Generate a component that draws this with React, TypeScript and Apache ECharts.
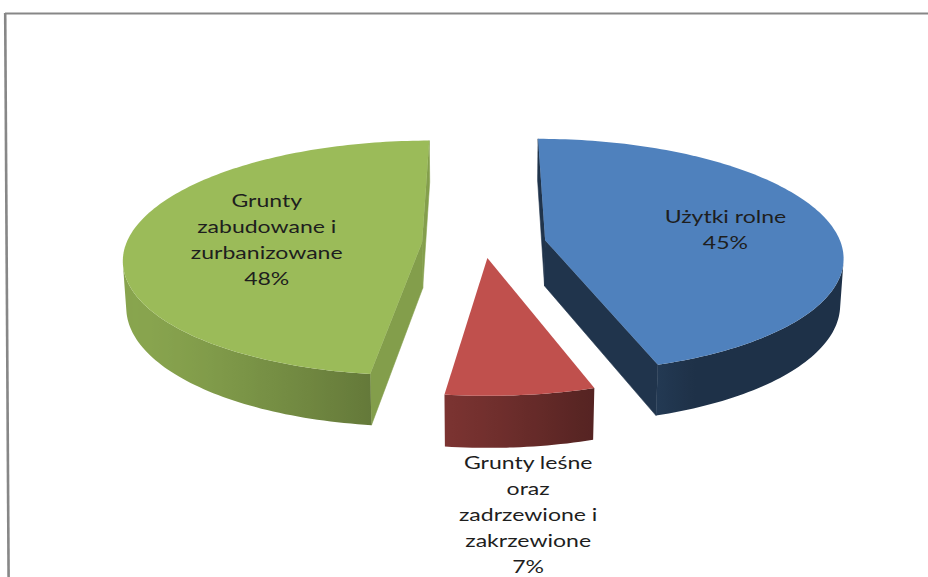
import React, { useEffect, useRef } from "react";
import * as echarts from "echarts";

// ---- data ----
const CATEGORIES = [
  "Użytki rolne",
  "Grunty leśne oraz zadrzewione i zakrzewione",
  "Grunty zabudowane i zurbanizowane",
];
const LABEL_LINES = [
  ["Użytki rolne"],
  ["Grunty leśne", "oraz", "zadrzewione i", "zakrzewione"],
  ["Grunty", "zabudowane i", "zurbanizowane"],
];
const VALUES = [45, 7, 48];
const COLORS = ["#4f81bd", "#c0504d", "#9bbb59"];

// ---- 3D layout (style, not data) ----
const CX = 484;
const CY = 244;
const SCALE = 296;
const DP = 7;
const PHI = (23 * Math.PI) / 180;
const THICK = 0.17;
const EXPLODE = [0.21, 0.12, 0.21];
const LABEL_R = [0.63, -1, 0.53];
const COSP = Math.cos(PHI);
const SINP = Math.sin(PHI);
const CAM = [0, DP * COSP, DP * SINP];

function project(X: number, Y: number, Z: number): number[] {
  const dist = DP - Y * COSP - Z * SINP;
  const v = Z * COSP - Y * SINP;
  const k = (SCALE * DP) / dist;
  return [CX + X * k, CY - v * k];
}

function shade(hex: string, f: number): string {
  const n = parseInt(hex.slice(1), 16);
  const r = Math.min(255, Math.round(((n >> 16) & 255) * f));
  const g = Math.min(255, Math.round(((n >> 8) & 255) * f));
  const b = Math.min(255, Math.round((n & 255) * f));
  return `rgb(${r},${g},${b})`;
}

const D2R = Math.PI / 180;
const wallShade = (a: number) => 0.38 + 0.5 * Math.max(0, Math.cos(a - 245 * D2R));

function renderItem(params: any, api: any) {
  const i = params.dataIndex;
  const total = VALUES.reduce((a, b) => a + b, 0);
  let start = 0;
  for (let j = 0; j < i; j++) start += (VALUES[j] / total) * 360;
  const span = (api.value(0) / total) * 360;
  const end = start + span;
  const mid = ((start + end) / 2) * D2R;
  const ox = EXPLODE[i] * Math.sin(mid);
  const oy = -EXPLODE[i] * Math.cos(mid);
  const W = (X: number, Y: number, Z: number) => [X + ox, Y + oy, Z];
  const P = (w: number[]) => project(w[0], w[1], w[2]);
  const visible = (n: number[], w: number[]) =>
    n[0] * (CAM[0] - w[0]) + n[1] * (CAM[1] - w[1]) + n[2] * (CAM[2] - w[2]) > 0;

  const base = COLORS[i];
  const children: any[] = [];
  const N = Math.max(4, Math.ceil(span / 1.2));
  const arcTop: number[][] = [];
  const arcBot: number[][] = [];
  const angs: number[] = [];
  for (let s = 0; s <= N; s++) {
    const a = (start + (span * s) / N) * D2R;
    angs.push(a);
    arcTop.push(W(Math.sin(a), -Math.cos(a), 0));
    arcBot.push(W(Math.sin(a), -Math.cos(a), -THICK));
  }
  const cTop = W(0, 0, 0);
  const cBot = W(0, 0, -THICK);

  // radial faces
  const faces = [
    { n: [-Math.cos(start * D2R), -Math.sin(start * D2R), 0], idx: 0 },
    { n: [Math.cos(end * D2R), Math.sin(end * D2R), 0], idx: N },
  ];
  faces.forEach((f) => {
    if (visible(f.n, arcTop[f.idx])) {
      const col = shade(base, 0.4 + 0.45 * Math.max(0, f.n[0]));
      children.push({
        type: "polygon",
        shape: { points: [P(cTop), P(arcTop[f.idx]), P(arcBot[f.idx]), P(cBot)] },
        style: { fill: col, stroke: col, lineWidth: 0.6 },
      });
    }
  });

  // outer wall: one polygon over the visible range, shaded with a gradient
  const vis: number[] = [];
  for (let s = 0; s < N; s++) {
    const am = (angs[s] + angs[s + 1]) / 2;
    const n = [Math.sin(am), -Math.cos(am), 0];
    if (visible(n, arcTop[s])) vis.push(s);
  }
  if (vis.length) {
    const s0 = vis[0];
    const s1 = vis[vis.length - 1] + 1;
    const top: number[][] = [];
    const bot: number[][] = [];
    const xs: number[] = [];
    const cols: string[] = [];
    for (let s = s0; s <= s1; s++) {
      const pt = P(arcTop[s]);
      top.push(pt);
      bot.push(P(arcBot[s]));
      xs.push(pt[0]);
      cols.push(shade(base, wallShade(angs[s])));
    }
    const xmin = Math.min(...xs);
    const xmax = Math.max(...xs);
    const stops = xs
      .map((x, k) => ({ offset: xmax > xmin ? (x - xmin) / (xmax - xmin) : 0, color: cols[k] }))
      .sort((a, b) => a.offset - b.offset);
    const grad = {
      type: "linear",
      x: xmin,
      y: 0,
      x2: xmax,
      y2: 0,
      global: true,
      colorStops: stops,
    };
    children.push({
      type: "polygon",
      shape: { points: top.concat(bot.reverse()) },
      style: { fill: grad },
    });
  }

  // top face
  children.push({
    type: "polygon",
    shape: { points: [P(cTop)].concat(arcTop.map(P)) },
    style: { fill: base },
  });

  // label
  const pct = Math.round((api.value(0) / total) * 100) + "%";
  const text = LABEL_LINES[i].concat([pct]).join("\n");
  let lx: number, ly: number, va: string;
  if (LABEL_R[i] > 0) {
    const lp = P(W(LABEL_R[i] * Math.sin(mid), -LABEL_R[i] * Math.cos(mid), 0));
    lx = lp[0];
    ly = lp[1];
    va = "middle";
  } else {
    const lp = P(W(Math.sin(mid), -Math.cos(mid), -THICK));
    lx = lp[0] + 8;
    ly = lp[1] + 2;
    va = "top";
  }
  children.push({
    type: "text",
    x: lx,
    y: ly,
    scaleX: 1.28,
    style: {
      text,
      x: 0,
      y: 0,
      align: "center",
      verticalAlign: va,
      fill: "#1e1e1e",
      fontFamily: "Lato",
      fontSize: 18,
      lineHeight: 26,
    },
  });

  return { type: "group", children };
}

export default function App() {
  const ref = useRef<HTMLDivElement>(null);
  useEffect(() => {
    if (!ref.current) return;
    const chart = echarts.init(ref.current, undefined, { renderer: "svg" });
    chart.setOption({
      animation: false,
      backgroundColor: "#ffffff",
      graphic: [
        {
          type: "line",
          shape: { x1: 5, y1: 13.5, x2: 928, y2: 13.5 },
          style: { stroke: "#878787", lineWidth: 2 },
        },
        {
          type: "line",
          shape: { x1: 5.2, y1: 13, x2: 8.6, y2: 577 },
          style: { stroke: "#878787", lineWidth: 2.6 },
        },
      ],
      series: [
        {
          type: "custom",
          name: "Struktura użytkowania gruntów",
          coordinateSystem: "none",
          renderItem,
          data: VALUES.map((v, k) => ({ name: CATEGORIES[k], value: v })),
        },
      ],
    });
    return () => chart.dispose();
  }, []);
  return (
    <div
      ref={ref}
      style={{ position: "absolute", left: 0, top: 0, width: 928, height: 577, background: "#fff" }}
    />
  );
}
